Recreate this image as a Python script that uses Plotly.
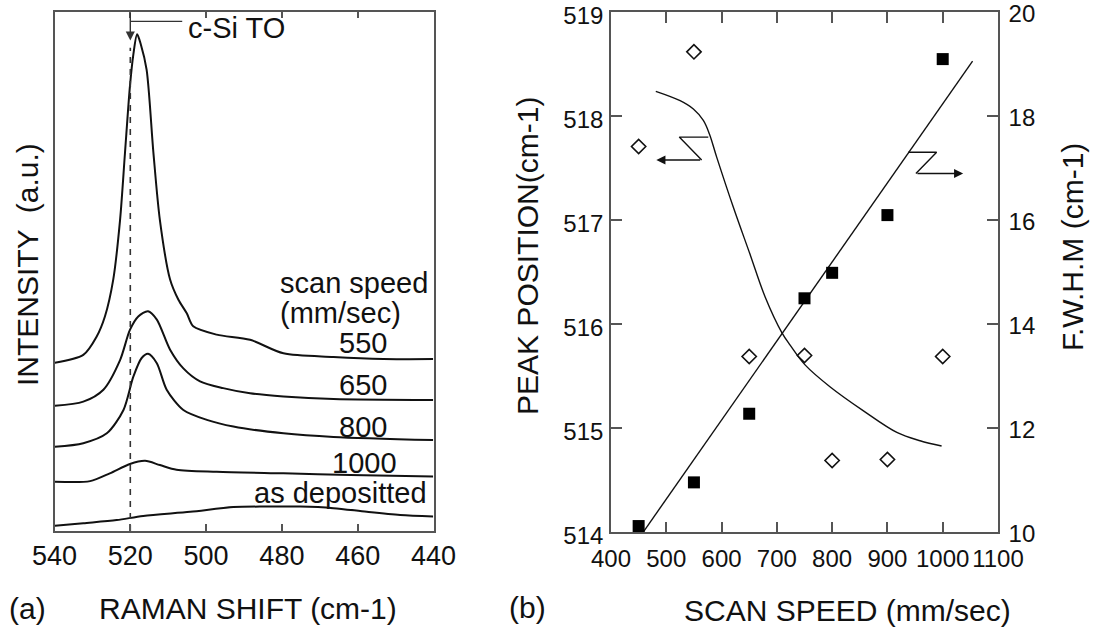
import plotly.graph_objects as go

# ---------------- (a) Raman spectra, offset by scan speed ----------------
shift_550 = [539.9, 532.4, 528.9, 526.7, 524.5, 522.7, 521.4, 520.1, 519.2, 518.2,
             517.2, 515.7, 513.9, 512.2, 509.5, 507.3, 505.1, 503.4, 497.2, 488.4,
             479.6, 466.4, 453.2, 440.1]
int_550 = [32.4, 33.9, 37.4, 41.3, 48.4, 59.9, 72.8, 85.6, 91.7, 95.6,
           93.6, 88.8, 72.8, 59.9, 48.4, 44.5, 41.9, 39.4, 37.8, 36.8,
           34.2, 33.5, 33.1, 33.1]

shift_650 = [539.9, 532.4, 527.1, 522.7, 520.1, 517.9, 515.3, 513.0, 509.5, 506.0,
             501.6, 495.5, 488.4, 479.6, 466.4, 440.1]
int_650 = [24.1, 24.9, 27.2, 32.9, 38.7, 41.3, 42.3, 40.7, 34.9, 31.3,
           28.8, 27.5, 26.5, 25.9, 25.4, 25.2]

shift_800 = [539.9, 532.4, 526.2, 521.8, 519.2, 517.0, 515.3, 513.0, 510.4, 506.0,
             499.8, 492.8, 479.6, 466.4, 440.1]
int_800 = [16.2, 16.9, 18.8, 23.3, 29.7, 33.3, 34.1, 32.3, 27.2, 23.3,
           21.4, 20.1, 18.8, 18.1, 17.5]

shift_1000 = [539.9, 530.6, 525.4, 520.1, 516.1, 512.2, 507.8, 497.2, 479.6, 462.0, 440.1]
int_1000 = [9.5, 9.6, 11.1, 12.9, 13.5, 12.7, 11.8, 11.4, 11.1, 10.8, 10.5]

shift_dep = [539.9, 532.4, 523.6, 516.6, 504.2, 492.8, 484.0, 475.2, 466.4, 457.6, 448.8, 440.1]
int_dep = [1.0, 1.5, 2.1, 2.9, 3.7, 4.6, 4.7, 4.7, 4.4, 3.7, 3.1, 2.8]

raman_ticks = [540, 520, 500, 480, 460, 440]
csi_to = 520

# ---------------- (b) peak position and FWHM vs scan speed ----------------
speed = [450, 550, 650, 750, 800, 900, 1000]
peak_pos = [517.71, 518.62, 515.69, 515.70, 514.69, 514.70, 515.69]
fwhm = [10.12, 10.96, 12.28, 14.50, 14.99, 16.10, 19.10]

peak_fit_x = [481, 525, 549, 567, 578, 591, 621, 651, 679, 709, 724, 751, 796, 856, 917, 959, 998]
peak_fit_y = [518.24, 518.15, 518.07, 517.96, 517.83, 517.61, 517.13, 516.68, 516.26,
              515.92, 515.80, 515.61, 515.40, 515.17, 514.96, 514.88, 514.83]
fwhm_fit_x = [458, 1054]
fwhm_fit_y = [10.0, 19.06]

speed_ticks = [400, 500, 600, 700, 800, 900, 1000, 1100]
pos_ticks = [514, 515, 516, 517, 518, 519]
fwhm_ticks = [10, 12, 14, 16, 18, 20]

FONT = "Liberation Sans, Arial, Helvetica, sans-serif"
INK = "#111111"
FRAME = "#555555"
W, H = 1094, 631


def px(x):
    return x / W


def py(y):
    return 1 - y / H


fig = go.Figure()

spectra = [(shift_550, int_550), (shift_650, int_650), (shift_800, int_800),
           (shift_1000, int_1000), (shift_dep, int_dep)]
for sx, sy in spectra:
    fig.add_trace(go.Scatter(x=sx, y=sy, mode="lines", xaxis="x", yaxis="y",
                             line=dict(color=INK, width=2, shape="spline", smoothing=0.8),
                             showlegend=False, hoverinfo="skip"))

# dashed marker of the c-Si TO position
fig.add_trace(go.Scatter(x=[csi_to, csi_to], y=[0, 93], mode="lines", xaxis="x", yaxis="y",
                         line=dict(color="#333333", width=1.6, dash="6px,6px"),
                         showlegend=False, hoverinfo="skip"))
# leader line of the c-Si TO label
fig.add_trace(go.Scatter(x=[csi_to, 506.3], y=[98.1, 98.1], mode="lines", xaxis="x", yaxis="y",
                         line=dict(color="#333333", width=1.4),
                         showlegend=False, hoverinfo="skip"))

# panel (b) marks
fig.add_trace(go.Scatter(x=peak_fit_x, y=peak_fit_y, mode="lines", xaxis="x2", yaxis="y2",
                         line=dict(color=INK, width=1.4, shape="spline", smoothing=1.0),
                         showlegend=False, hoverinfo="skip"))
fig.add_trace(go.Scatter(x=speed, y=peak_pos, mode="markers", xaxis="x2", yaxis="y2",
                         marker=dict(symbol="diamond-open", size=11, color=INK,
                                     line=dict(width=1.6, color=INK)),
                         cliponaxis=False, showlegend=False))
fig.add_trace(go.Scatter(x=fwhm_fit_x, y=fwhm_fit_y, mode="lines", xaxis="x2", yaxis="y3",
                         line=dict(color=INK, width=1.4),
                         showlegend=False, hoverinfo="skip"))
fig.add_trace(go.Scatter(x=speed, y=fwhm, mode="markers", xaxis="x2", yaxis="y3",
                         marker=dict(symbol="square", size=12, color="#000000"),
                         cliponaxis=False, showlegend=False))

# zig-zag pointers telling which axis each fit belongs to
fig.add_trace(go.Scatter(x=[576, 523.5, 564], y=[517.80, 517.80, 517.58], mode="lines",
                         xaxis="x2", yaxis="y2", line=dict(color=INK, width=1.4),
                         showlegend=False, hoverinfo="skip"))
fig.add_trace(go.Scatter(x=[937.6, 989, 951.5], y=[17.31, 17.31, 16.90], mode="lines",
                         xaxis="x2", yaxis="y3", line=dict(color=INK, width=1.4),
                         showlegend=False, hoverinfo="skip"))


def label(x, y, text, xref="x", yref="y", size=29, xanchor="center", angle=0):
    return dict(x=x, y=y, xref=xref, yref=yref, text=text, showarrow=False,
                xanchor=xanchor, yanchor="middle", textangle=angle,
                font=dict(size=size, color=INK, family=FONT))


annotations = [
    # pointer arrowheads
    dict(x=482, y=517.58, ax=564, ay=517.58, xref="x2", yref="y2", axref="x2", ayref="y2",
         showarrow=True, arrowhead=2, arrowsize=1.3, arrowwidth=1.4, arrowcolor=INK, text=""),
    dict(x=1037, y=16.90, ax=951.5, ay=16.90, xref="x2", yref="y3", axref="x2", ayref="y3",
         showarrow=True, arrowhead=2, arrowsize=1.3, arrowwidth=1.4, arrowcolor=INK, text=""),
    # c-Si TO arrow and label
    dict(x=csi_to, y=94.4, ax=csi_to, ay=100, xref="x", yref="y", axref="x", ayref="y",
         showarrow=True, arrowhead=2, arrowsize=1.3, arrowwidth=1.4, arrowcolor="#333333", text=""),
    label(505.3, 96.9, "c-Si TO", xanchor="left"),
    # scan-speed labels
    label(481.0, 47.8, "scan speed", xanchor="left"),
    label(481.0, 42.0, "(mm/sec)", xanchor="left"),
    label(458.6, 36.2, "550"),
    label(458.6, 28.1, "650"),
    label(458.6, 20.0, "800"),
    label(458.1, 13.1, "1000"),
    label(441.3, 7.3, "as depositted", xanchor="right"),
    # axis titles and panel tags
    label(px(248), py(608), "RAMAN SHIFT (cm-1)", "paper", "paper", 30),
    label(px(27), py(608), "(a)", "paper", "paper", 30),
    label(px(27), py(265), "INTENSITY  (a.u.)", "paper", "paper", 30, angle=-90),
    label(px(847), py(610), "SCAN SPEED (mm/sec)", "paper", "paper", 30),
    label(px(527), py(607), "(b)", "paper", "paper", 30),
    label(px(527), py(256), "PEAK POSITION(cm-1)", "paper", "paper", 30, angle=-90),
    label(px(1073), py(247), "F.W.H.M (cm-1)", "paper", "paper", 30, angle=-90),
]

tickfont_a = dict(size=27, color=INK, family=FONT)
tickfont_b = dict(size=24, color=INK, family=FONT)

common = dict(showgrid=False, zeroline=False, automargin=False, showline=True,
              linecolor=FRAME, linewidth=1.6, tickcolor=FRAME, tickwidth=1.5,
              ticklabeloverflow="allow")

fig.update_layout(
    width=W, height=H,
    margin=dict(l=0, r=0, t=0, b=0, autoexpand=False),
    paper_bgcolor="white", plot_bgcolor="white",
    showlegend=False,
    annotations=annotations,
    xaxis=dict(domain=[px(54.5), px(433.5)], range=[540, 440], anchor="y",
               tickvals=raman_ticks, ticks="inside", ticklen=7, tickangle=0,
               mirror="ticks", tickfont=tickfont_a, ticklabelstandoff=0, **common),
    yaxis=dict(domain=[py(531), py(11.5)], range=[0, 100], anchor="x",
               showticklabels=False, ticks="", mirror=True, **common),
    xaxis2=dict(domain=[px(611), px(998)], range=[400, 1100], anchor="y2",
                tickvals=speed_ticks, ticks="inside", ticklen=11, tickangle=0,
                mirror="ticks", tickfont=tickfont_b, ticklabelstandoff=4, **common),
    yaxis2=dict(domain=[py(532.3), py(12.3)], range=[514, 519], anchor="x2",
                tickvals=pos_ticks, ticks="inside", ticklen=11, mirror=True,
                tickfont=tickfont_b, ticklabelstandoff=1, ticklabelshift=3, **common),
    yaxis3=dict(overlaying="y2", side="right", range=[10, 20], anchor="x2",
                tickvals=fwhm_ticks, ticks="inside", ticklen=11,
                tickfont=tickfont_b, ticklabelstandoff=4, ticklabelshift=1, **common),
)

fig.write_html("out.html")
